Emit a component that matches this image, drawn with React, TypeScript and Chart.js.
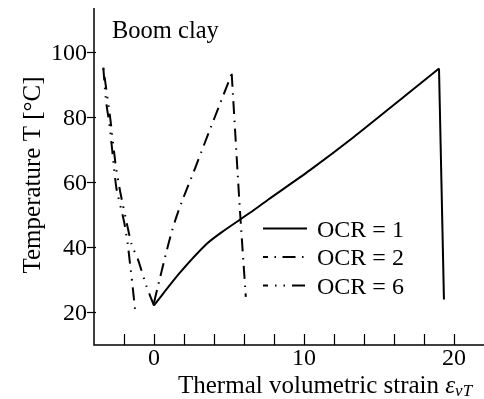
import { useEffect, useRef } from "react";
import { Chart, registerables } from "chart.js";

Chart.register(...registerables);

// Strain axis values (x) and temperatures (y) for each loading path
const ocr1HeatStrain = [0, 1.73, 3.5, 4.5, 6.4, 7.6, 10.4, 13.3, 16.6, 19.0];
const ocr1HeatTemp = [22.2, 32.2, 41.0, 44.6, 50.6, 54.6, 63.7, 73.8, 86.0, 94.9];
const ocr1CoolStrain = [19.0, 19.33];
const ocr1CoolTemp = [94.9, 24.0];

const ocr2HeatStrain = [0, 0.29, 1.29, 2.73, 5.18];
const ocr2HeatTemp = [23.0, 28.6, 46.4, 64.2, 93.3];
const ocr2CoolStrain = [5.18, 5.72, 6.12];
const ocr2CoolTemp = [93.3, 52.0, 24.8];

const ocr6HeatStrain = [0, -0.5, -1.05, -1.5, -1.75, -2.25, -2.55, -2.9, -3.38];
const ocr6HeatTemp = [22.1, 28.0, 36.0, 41.0, 46.0, 57.0, 65.0, 79.0, 95.2];
const ocr6CoolStrain = [-3.38, -3.2, -2.95, -2.7, -2.5, -2.0, -1.75, -1.6, -1.45, -1.25];
const ocr6CoolTemp = [95.2, 85.0, 77.0, 66.0, 58.0, 48.0, 41.0, 35.0, 29.0, 20.4];

const xTickValues = [-2, 0, 2, 4, 6, 8, 10, 12, 14, 16, 18, 20];
const xLabelValues = [0, 10, 20];
const yTickValues = [20, 40, 60, 80, 100];

const legendLabels = ["OCR = 1", "OCR = 2", "OCR = 6"];
const dashSolid: number[] = [];
const dashDot = [13, 6.5, 1.5, 6.5];
const dashDotDot = [13, 7, 1.5, 7, 1.5, 7];
const legendDashes = [dashSolid, dashDot, dashDotDot];

const SERIF = "'Liberation Serif', 'Times New Roman', serif";

const pts = (xs: number[], ys: number[]) => xs.map((x, i) => ({ x, y: ys[i] }));

const series = (
  data: { x: number; y: number }[],
  dash: number[],
  tension = 0,
  monotone = false
) => ({
  data,
  borderColor: "#000",
  borderWidth: 2,
  borderDash: dash,
  pointRadius: 0,
  tension,
  cubicInterpolationMode: monotone ? "monotone" : "default",
  fill: false,
});

// Axes, ticks, labels, titles and the legend drawn on top of the plot
const decorPlugin = {
  id: "decor",
  afterDraw(chart: any) {
    const ctx: CanvasRenderingContext2D = chart.ctx;
    const xs = chart.scales.x;
    const ys = chart.scales.y;
    const { left, right, top, bottom } = chart.chartArea;
    ctx.save();
    ctx.strokeStyle = "#000";
    ctx.fillStyle = "#000";
    ctx.setLineDash([]);

    // axis lines
    ctx.lineWidth = 1.5;
    ctx.beginPath();
    ctx.moveTo(left, top);
    ctx.lineTo(left, bottom);
    ctx.lineTo(right, bottom);
    ctx.stroke();

    // x ticks (inside)
    ctx.lineWidth = 1.2;
    xTickValues.forEach((v) => {
      const px = Math.round(xs.getPixelForValue(v)) + 0.5;
      ctx.beginPath();
      ctx.moveTo(px, bottom);
      ctx.lineTo(px, bottom - 11);
      ctx.stroke();
    });
    // y ticks
    yTickValues.forEach((v) => {
      const py = Math.round(ys.getPixelForValue(v)) + 0.5;
      ctx.beginPath();
      ctx.moveTo(left - 7, py);
      ctx.lineTo(left + 2, py);
      ctx.stroke();
    });

    // tick labels
    ctx.font = `24px ${SERIF}`;
    ctx.textBaseline = "alphabetic";
    ctx.textAlign = "right";
    yTickValues.forEach((v) => {
      ctx.fillText(String(v), left - 7, ys.getPixelForValue(v) + 8);
    });
    ctx.textAlign = "center";
    xLabelValues.forEach((v) => {
      ctx.fillText(String(v), xs.getPixelForValue(v), bottom + 20);
    });

    // y title
    ctx.save();
    ctx.font = `25px ${SERIF}`;
    ctx.translate(40, 175);
    ctx.rotate(-Math.PI / 2);
    ctx.textAlign = "center";
    ctx.fillText("Temperature T [°C]", 0, 0);
    ctx.restore();

    // x title with italic epsilon and subscript
    ctx.textAlign = "left";
    ctx.font = `25px ${SERIF}`;
    let tx = 178;
    const main = "Thermal volumetric strain ";
    ctx.fillText(main, tx, 393);
    tx += ctx.measureText(main).width;
    ctx.font = `italic 25px ${SERIF}`;
    ctx.fillText("ε", tx, 393);
    tx += ctx.measureText("ε").width;
    ctx.font = `italic 17px ${SERIF}`;
    ctx.fillText("vT", tx, 396);

    // panel label
    ctx.font = `24.5px ${SERIF}`;
    ctx.fillText("Boom clay", 112, 38);

    // legend
    const legendY = [228.5, 257, 285.5];
    legendLabels.forEach((label, i) => {
      ctx.lineWidth = 2;
      ctx.setLineDash(legendDashes[i]);
      ctx.lineDashOffset = i === 0 ? 0 : 8;
      ctx.beginPath();
      ctx.moveTo(263, legendY[i]);
      ctx.lineTo(307, legendY[i]);
      ctx.stroke();
      ctx.setLineDash([]);
      ctx.font = `24px ${SERIF}`;
      ctx.fillText(label, 317, legendY[i] + 8);
    });
    ctx.restore();
  },
};

export default function App() {
  const ref = useRef<HTMLCanvasElement>(null);

  useEffect(() => {
    if (!ref.current) return;
    const chart = new Chart(ref.current, {
      type: "line",
      data: {
        datasets: [
          series(pts(ocr1HeatStrain, ocr1HeatTemp), dashSolid, 0.25),
          series(pts(ocr1CoolStrain, ocr1CoolTemp), dashSolid),
          series(pts(ocr2HeatStrain, ocr2HeatTemp), dashDot, 0.4, true),
          series(pts(ocr2CoolStrain, ocr2CoolTemp), dashDot, 0.2),
          series(pts(ocr6HeatStrain, ocr6HeatTemp), dashDotDot, 0.2),
          series(pts(ocr6CoolStrain, ocr6CoolTemp), dashDotDot, 0.2),
        ] as any,
      },
      options: {
        animation: false,
        responsive: false,
        layout: { padding: { top: 8, left: 0, right: 0, bottom: 0 } },
        plugins: { legend: { display: false }, tooltip: { enabled: false } },
        scales: {
          x: {
            type: "linear",
            min: -4,
            max: 22,
            grid: { display: false },
            border: { display: false },
            ticks: { display: false },
            afterFit: (s: any) => {
              s.height = 54;
            },
          },
          y: {
            type: "linear",
            min: 10,
            max: 113.5,
            grid: { display: false },
            border: { display: false },
            ticks: { display: false },
            afterFit: (s: any) => {
              s.width = 94;
            },
          },
        },
      } as any,
      plugins: [decorPlugin],
    });
    return () => chart.destroy();
  }, []);

  return (
    <canvas
      ref={ref}
      width={484}
      height={399}
      style={{ position: "fixed", left: 0, top: 0, background: "#fff" }}
    />
  );
}
